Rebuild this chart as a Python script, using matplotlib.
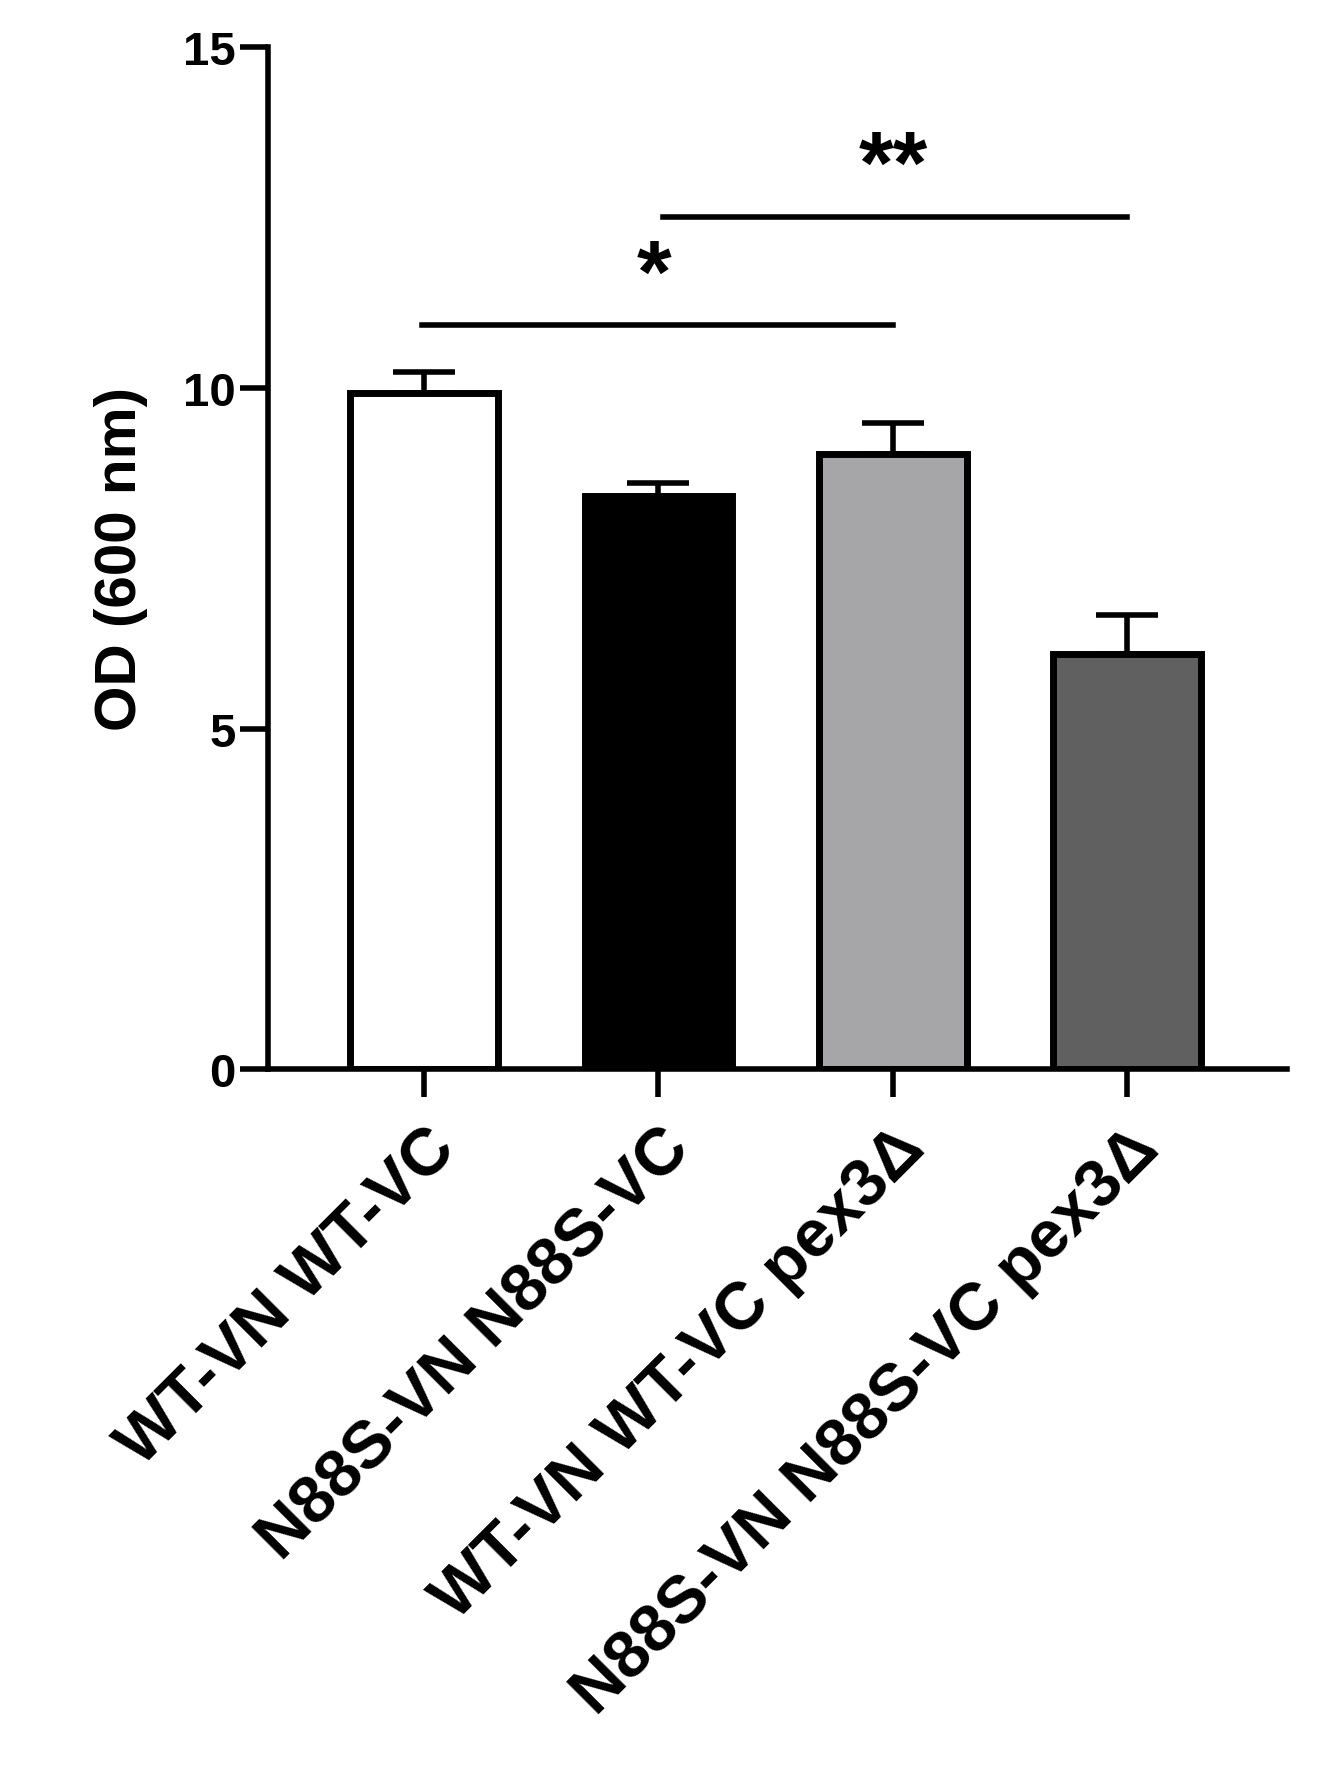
import matplotlib
matplotlib.use("Agg")
import matplotlib.pyplot as plt

categories = ["WT-VN WT-VC", "N88S-VN N88S-VC", "WT-VN WT-VC pex3Δ", "N88S-VN N88S-VC pex3Δ"]
values = [9.93, 8.41, 9.03, 6.10]
errors = [0.30, 0.20, 0.45, 0.57]
colors = ["white", "black", "#a6a6a8", "#606060"]

plt.rcParams['font.family'] = ['Liberation Sans', 'DejaVu Sans']
fig = plt.figure(figsize=(13.21, 17.81), dpi=100)
ax = fig.add_axes([0.203, 0.399, 0.771, 0.574])
x = list(range(len(categories)))
ax.bar(x, values, width=0.63, color=colors, edgecolor="black", linewidth=5, zorder=2)
ax.errorbar(x, values, yerr=[[0]*4, errors], fmt="none", ecolor="black",
            elinewidth=4, capsize=22, capthick=4, zorder=1)
ax.set_xlim(-0.665, 3.68)
ax.set_ylim(0, 15)
ax.set_yticks([0, 5, 10, 15])
ax.set_xticks(x)
ax.set_xticklabels(categories, rotation=45, ha="right", rotation_mode="anchor",
                   fontsize=48, fontweight="bold")
for lab in ax.get_yticklabels():
    lab.set_fontsize(34); lab.set_fontweight("bold")
ax.tick_params(axis="both", width=4, length=20, direction="out")
ax.tick_params(axis="x", pad=14)
for s in ["top", "right"]:
    ax.spines[s].set_visible(False)
for s in ["left", "bottom"]:
    ax.spines[s].set_linewidth(4)
ax.set_ylabel("OD (600 nm)", fontsize=42, fontweight="bold", labelpad=25)

ax.plot([-0.01, 2.0], [10.92, 10.92], color="black", lw=4)
ax.text(0.98, 11.0, "*", ha="center", va="bottom", fontsize=64, fontweight="bold")
ax.plot([1.02, 3.0], [12.5, 12.5], color="black", lw=4)
ax.text(2.0, 12.6, "**", ha="center", va="bottom", fontsize=64, fontweight="bold")

fig.savefig("out.png", dpi=100, facecolor="white")
